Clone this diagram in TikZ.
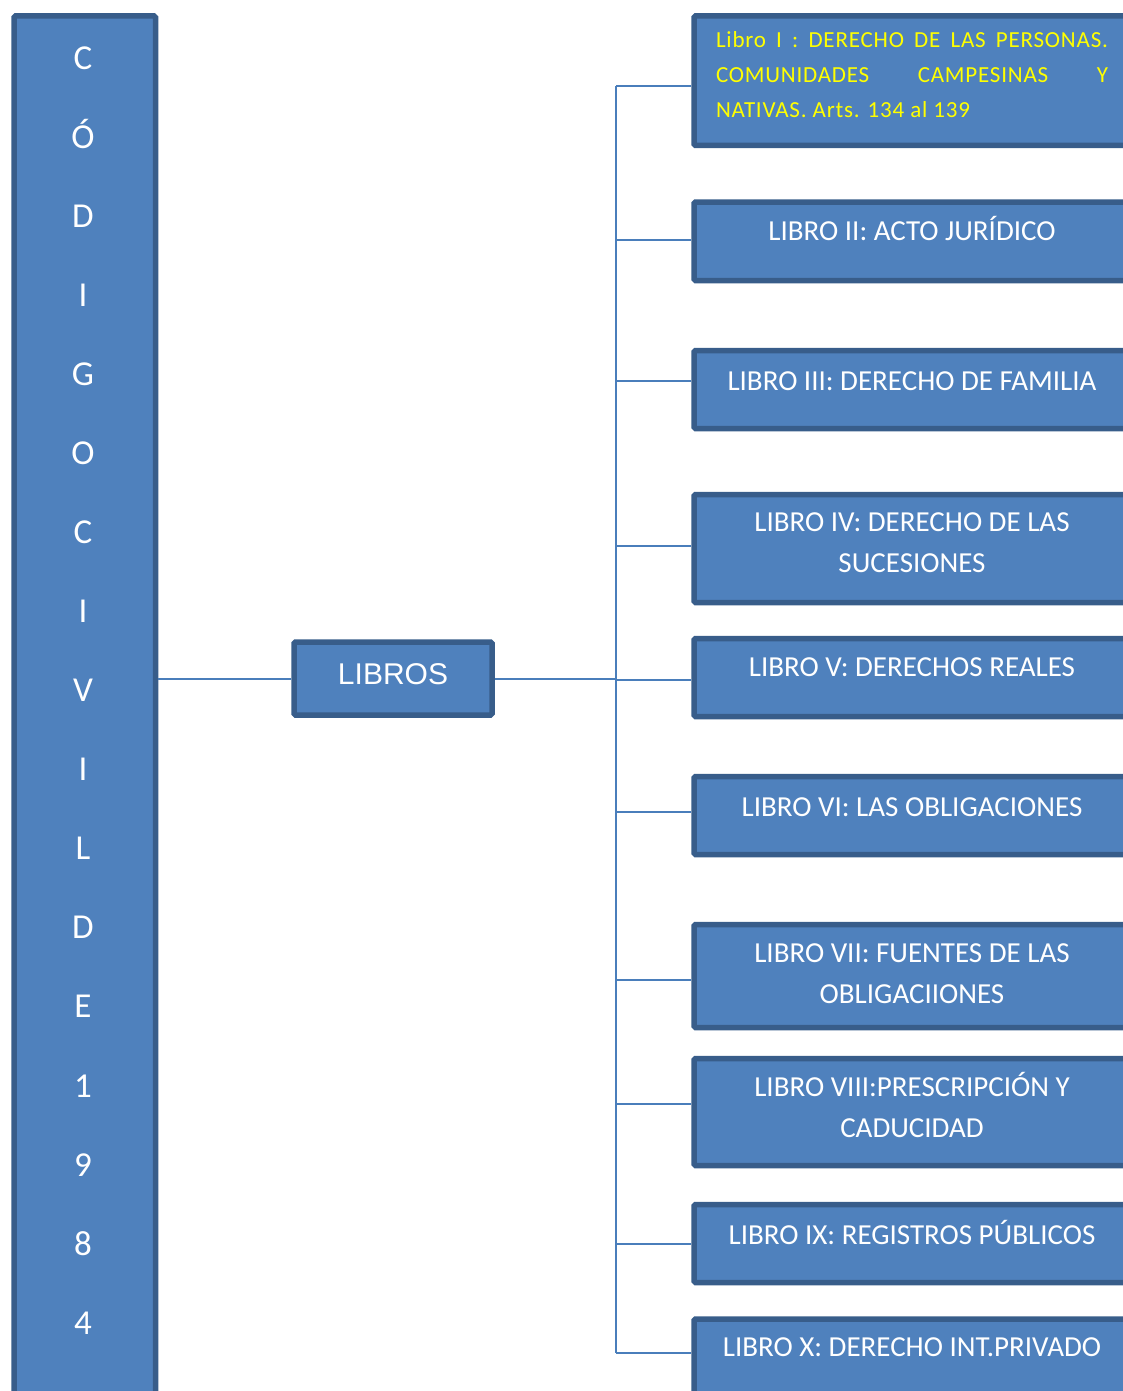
\documentclass[tikz,border=0pt]{standalone}
\usepackage{fontspec}
\setmainfont{Carlito}
\newfontfamily\arialfont{Liberation Sans}
\newfontfamily\espaciada[LetterSpace=3.5]{Carlito}
\usetikzlibrary{positioning}

\definecolor{azul}{HTML}{4F81BD}
\definecolor{bordo}{HTML}{385D8A}
\definecolor{linea}{HTML}{4A7EBB}
\definecolor{amarillo}{HTML}{FFFF00}

\newcommand\linea[1]{\makebox[392pt][s]{\spaceskip=.25em plus 1fil\relax #1}}

\tikzset{
  caja/.style={draw=bordo, line width=5.5pt, fill=azul, rounded corners=1.5pt, inner sep=0pt},
  txt/.style={text=white, align=center, inner sep=0pt, font=\fontsize{29}{41}\selectfont},
  txtamarillo/.style={text=amarillo, align=left, inner sep=0pt, font=\espaciada\fontsize{23}{35}\selectfont},
  conn/.style={draw=linea, line width=2pt}
}

\begin{document}
\begin{tikzpicture}[x=1pt,y=-1pt]
  \useasboundingbox (0,0) rectangle (1123,1391);
  % columna izquierda
  \node[caja, minimum width=141.5, minimum height=1404] (codigo) at (84.75,718) {};
  \foreach \ch [count=\i from 0] in {C,Ó,D,I,G,O,C,I,V,I,L,D,E,1,9,8,4} {
    \pgfmathsetmacro{\yy}{58+79.06*\i}
    \node[text=white, font=\fontsize{35}{40}\selectfont, text height=22.5, text depth=0, inner sep=0pt] (c\i) at (83,\yy) {\ch};
  }
  \node[caja, minimum width=198, minimum height=73, text=white, font=\arialfont\fontsize{30}{36}\selectfont, text height=23, text depth=12] (libros) at (393,678.5) {LIBROS};
  % libros
  \node[caja, minimum width=436, minimum height=129.5, label={[txtamarillo, yshift=6]center:{\linea{Libro I : DERECHO DE LAS PERSONAS.}\\\linea{COMUNIDADES CAMPESINAS Y}\\NATIVAS. Arts. 134 al 139}}] (l1) at (912,80.75) {};
  \coordinate (t1) at (616,86);
  \draw[conn] (t1) -- (t1 -| l1.west);
  \foreach \i/\c/\h/\cy/\dy/\txt in {
    2/241.25/78.5/240/12.5/{LIBRO II: ACTO JURÍDICO},
    3/389.5/78/381/8.5/{LIBRO III: DERECHO DE FAMILIA},
    4/548.5/108/546/5.5/{LIBRO IV: DERECHO DE LAS\\SUCESIONES},
    5/677.5/78/680/10.5/{LIBRO V: DERECHOS REALES},
    6/815.5/78/812/8.5/{LIBRO VI: LAS OBLIGACIONES},
    7/976/103/980/2/{LIBRO VII: FUENTES DE LAS\\OBLIGACIIONES},
    8/1112/107/1104/7/{LIBRO VIII:PRESCRIPCIÓN Y\\CADUCIDAD},
    9/1243.5/78/1244/11.5/{LIBRO IX: REGISTROS PÚBLICOS},
    10/1358/78/1353/10.5/{LIBRO X: DERECHO INT.PRIVADO}} {
    \node[caja, minimum width=436, minimum height=\h, label={[txt, yshift=\dy]center:\txt}] (l\i) at (912,\c) {};
    \coordinate (t\i) at (616,\cy);
    \draw[conn] (t\i) -- (t\i -| l\i.west);
  }
  % conectores
  \draw[conn] (t1) -- (t10);
  \draw[conn] (libros.east) -- (libros.east -| t1);
  \draw[conn] (codigo.east |- libros.west) -- (libros.west);
\end{tikzpicture}
\end{document}
